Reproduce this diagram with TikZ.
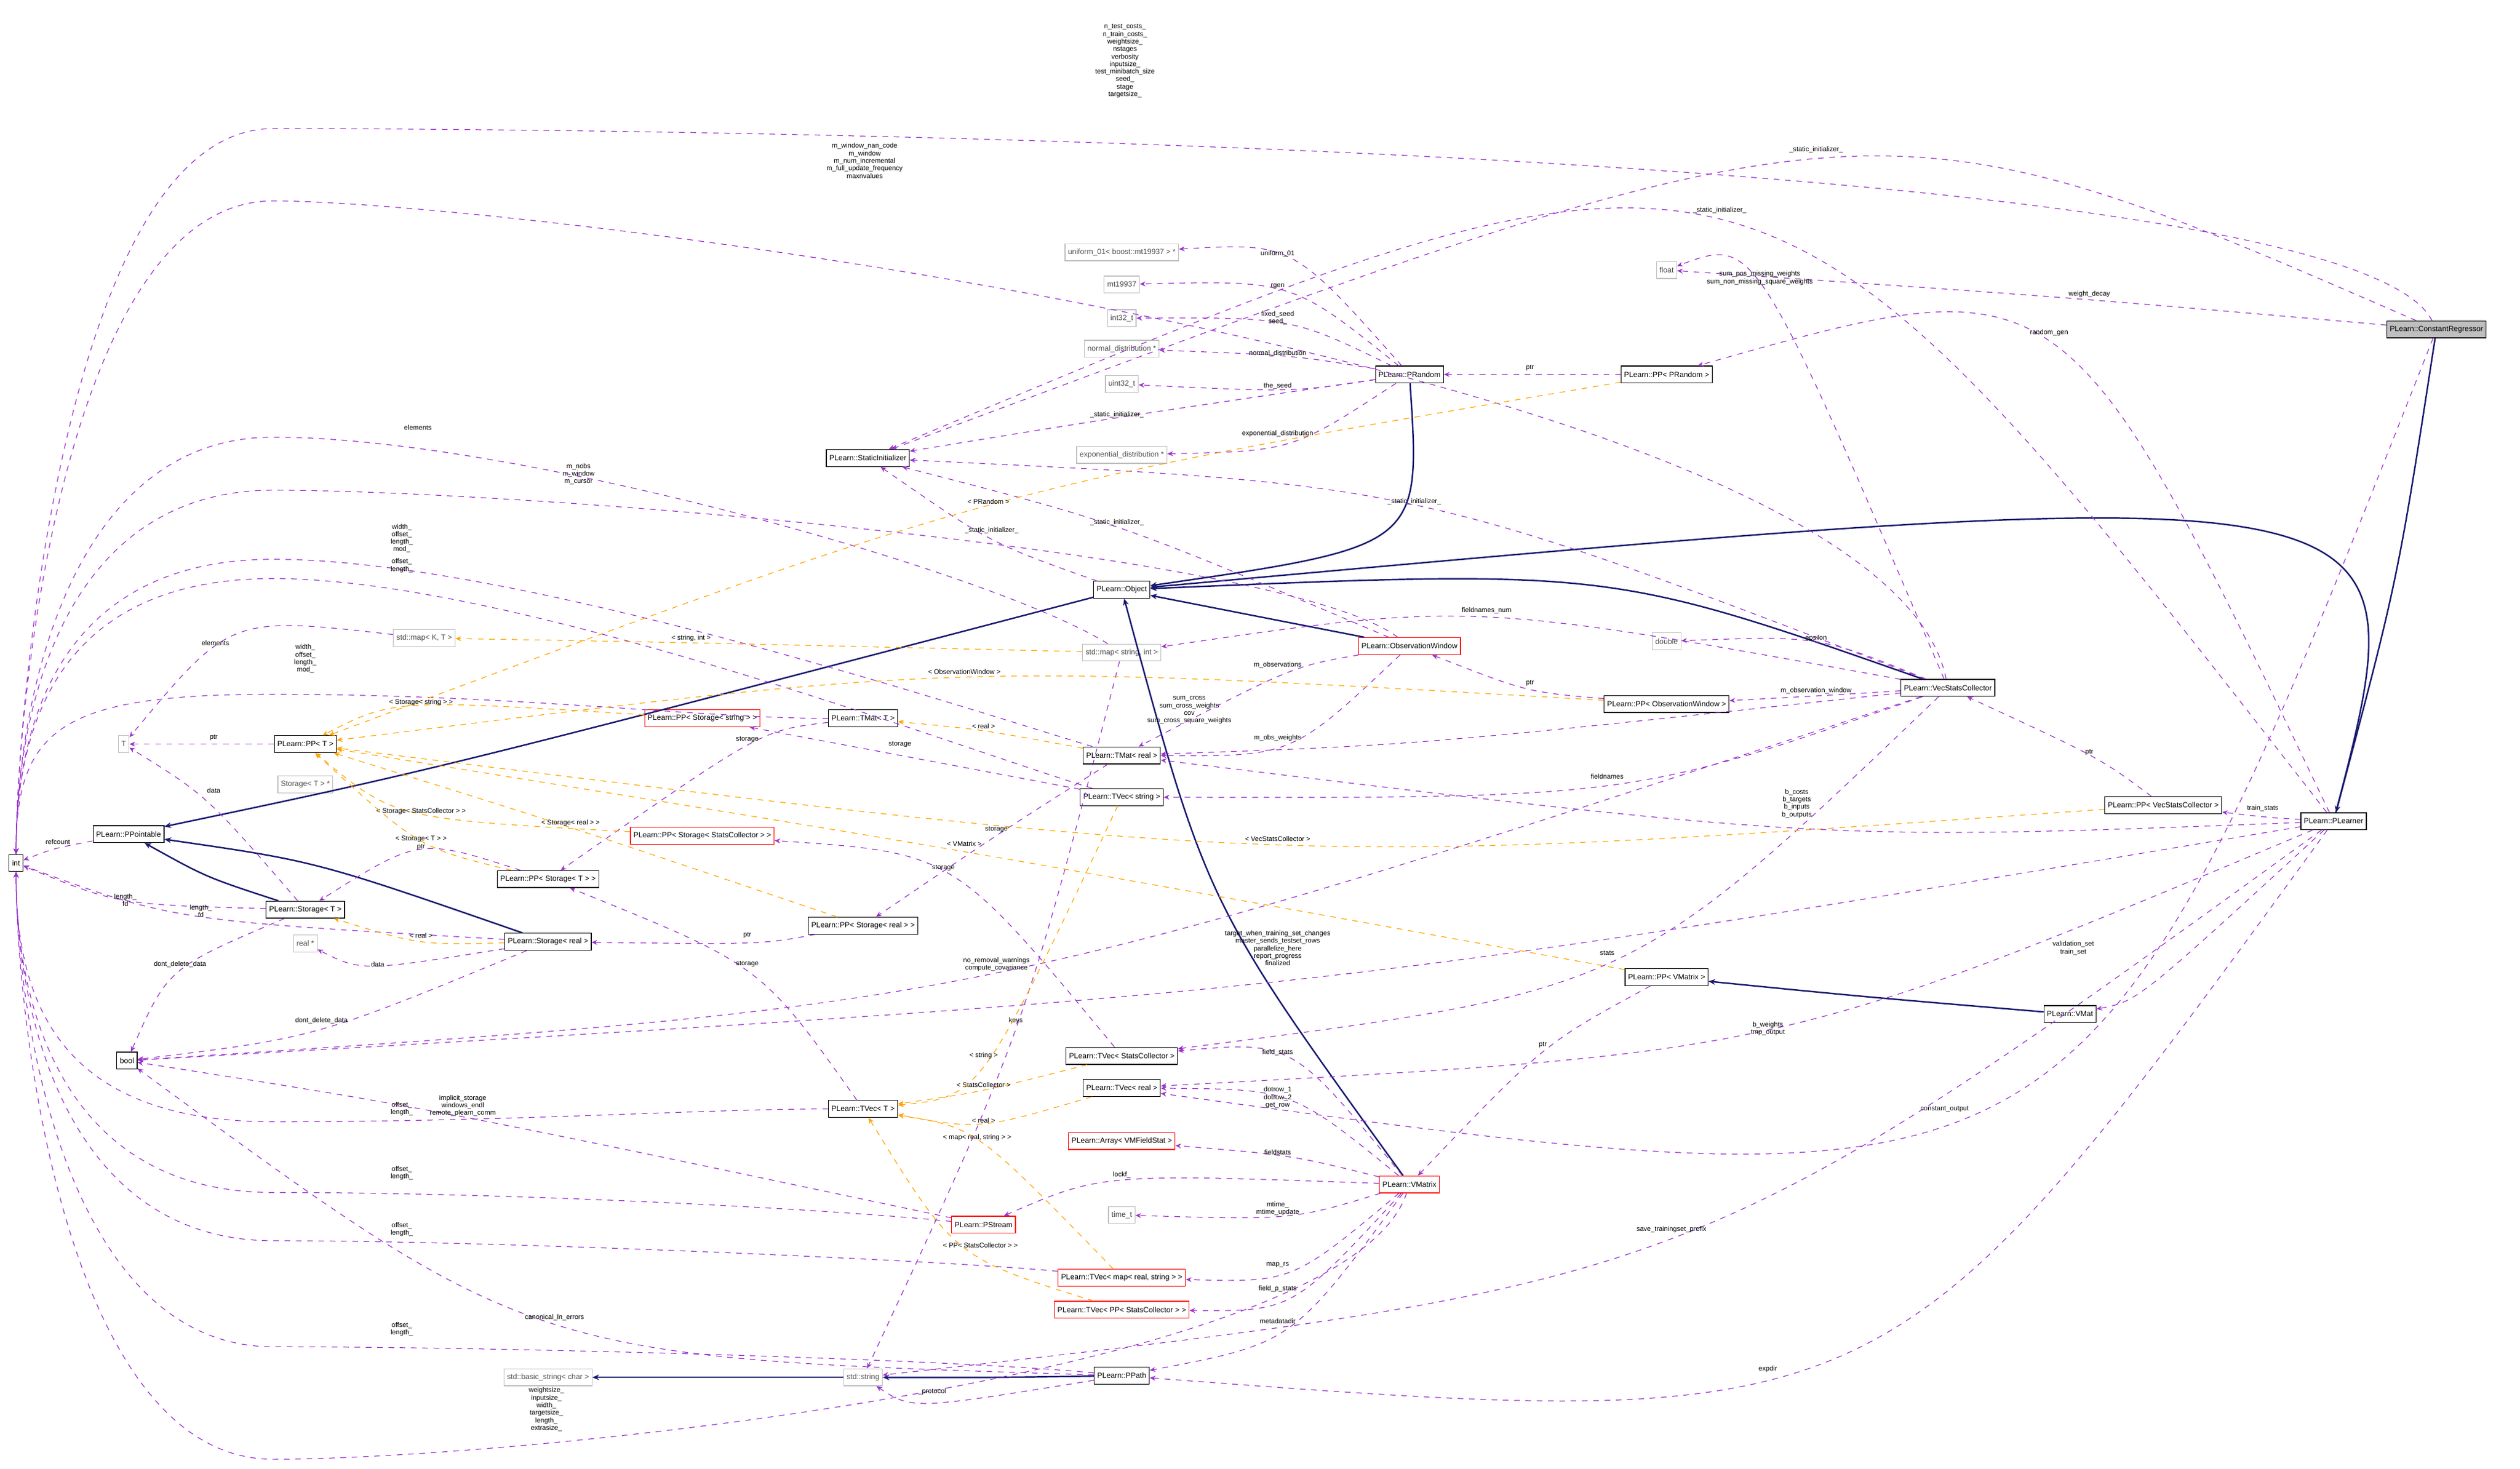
\documentclass[tikz,border=0pt]{standalone}
\usepackage{fontspec}
\setmainfont{Liberation Sans}
\usetikzlibrary{positioning,calc,arrows.meta}
\definecolor{memcol}{RGB}{154,50,205}
\definecolor{tplcol}{RGB}{255,165,0}
\definecolor{inhcol}{RGB}{25,25,112}
\definecolor{extcol}{RGB}{191,191,191}
\tikzset{
  cls/.style={draw=black,fill=white,font=\fontsize{4}{4.5}\selectfont,inner sep=1.6pt,minimum height=9pt},
  clsred/.style={cls,draw=red},
  clsext/.style={cls,draw=extcol,text=black!70},
  clsmain/.style={cls,fill=extcol},
  lbl/.style={font=\fontsize{3.6}{4}\selectfont,align=center,inner sep=0pt},
  mem/.style={draw=memcol,dashed,-{Stealth[length=3pt,width=2.6pt]}},
  tpl/.style={draw=tplcol,dashed,-{Stealth[length=3pt,width=2.6pt]}},
  inh/.style={draw=inhcol,thick,-{Stealth[length=3.5pt,width=3pt]}}
}
\newcommand{\lt}{\textless}
\newcommand{\gt}{\textgreater}
% style, source, target, curve point, label point, text
\newcommand{\conn}[6][mem]{%
  \path ($(#2)!0.5!(#3)$) coordinate (mid);
  \draw[#1] (#2) .. controls ($(mid)!1.333!(#4)$) .. (#3);
  \node[lbl] at (#5) {#6};}
% members of type int: leaving offset, source, track height, entry offset, label point, text
\newcommand{\connint}[6][-100,0]{%
  \path (#2) ++(#1) coordinate (lv);
  \path (int) ++(0,#4) coordinate (en);
  \draw[mem] (#2) .. controls (lv) and (320,#3) .. (170,#3)
    .. controls (40,#3) and (en) .. (int);
  \node[lbl] at (#5) {#6};}

\begin{document}
\begin{tikzpicture}[x=0.03cm,y=-0.03cm]
  \useasboundingbox (0,0) rectangle (1568,914);

  % classes
  \node[clsmain] (constreg)  at (1516,205) {PLearn::ConstantRegressor};
  \node[cls]     (plearner)  at (1452,511) {PLearn::PLearner};
  \node[cls]     (vecstats)  at (1212,428) {PLearn::VecStatsCollector};
  \node[cls]     (pp_vecstats) at (1346,501) {PLearn::PP\lt{} VecStatsCollector \gt};
  \node[cls]     (vmat)      at (1288,631) {PLearn::VMat};
  \node[cls]     (pp_vmatrix) at (1037,608) {PLearn::PP\lt{} VMatrix \gt};
  \node[clsred]  (vmatrix)   at (877,737) {PLearn::VMatrix};
  \node[cls]     (prandom)   at (877,233) {PLearn::PRandom};
  \node[cls]     (pp_prandom) at (1037,233) {PLearn::PP\lt{} PRandom \gt};
  \node[clsext]  (float)     at (1037,168) {float};
  \node[clsext]  (double)    at (1037,399) {double};
  \node[cls]     (staticinit) at (540,285) {PLearn::StaticInitializer};
  \node[cls]     (object)    at (698,367) {PLearn::Object};
  \node[clsred]  (obswin)    at (877,402) {PLearn::ObservationWindow};
  \node[cls]     (pp_obswin) at (1037,438) {PLearn::PP\lt{} ObservationWindow \gt};
  \node[clsext]  (uniform)   at (698,157) {uniform\_01\lt{} boost::mt19937 \gt{} *};
  \node[clsext]  (mt)        at (698,177) {mt19937};
  \node[clsext]  (int32)     at (698,198) {int32\_t};
  \node[clsext]  (normal)    at (698,217) {normal\_distribution *};
  \node[clsext]  (uint32)    at (698,239) {uint32\_t};
  \node[clsext]  (expo)      at (698,283) {exponential\_distribution *};
  \node[clsext]  (map_kt)    at (264,397) {std::map\lt{} K, T \gt};
  \node[clsext]  (map_si)    at (698,406) {std::map\lt{} string, int \gt};
  \node[clsext]  (t)         at (77,463) {T};
  \node[cls]     (pp_t)      at (190,463) {PLearn::PP\lt{} T \gt};
  \node[clsred]  (pp_stor_str) at (437,447) {PLearn::PP\lt{} Storage\lt{} string \gt{} \gt};
  \node[cls]     (tmat_t)    at (537,447) {PLearn::TMat\lt{} T \gt};
  \node[clsext]  (stor_t_ptr) at (190,488) {Storage\lt{} T \gt{} *};
  \node[cls]     (tmat_real) at (698,470) {PLearn::TMat\lt{} real \gt};
  \node[cls]     (tvec_str)  at (698,496) {PLearn::TVec\lt{} string \gt};
  \node[cls]     (ppointable) at (80,519) {PLearn::PPointable};
  \node[cls]     (int)       at (10,537) {int};
  \node[clsred]  (pp_stor_sc) at (437,520) {PLearn::PP\lt{} Storage\lt{} StatsCollector \gt{} \gt};
  \node[cls]     (pp_stor_t) at (341,547) {PLearn::PP\lt{} Storage\lt{} T \gt{} \gt};
  \node[cls]     (stor_t)    at (190,566) {PLearn::Storage\lt{} T \gt};
  \node[clsext]  (realptr)   at (190,587) {real *};
  \node[cls]     (stor_real) at (341,586) {PLearn::Storage\lt{} real \gt};
  \node[cls]     (pp_stor_real) at (537,576) {PLearn::PP\lt{} Storage\lt{} real \gt{} \gt};
  \node[cls]     (bool)      at (79,660) {bool};
  \node[cls]     (tvec_sc)   at (698,657) {PLearn::TVec\lt{} StatsCollector \gt};
  \node[cls]     (tvec_real) at (698,677) {PLearn::TVec\lt{} real \gt};
  \node[cls]     (tvec_t)    at (537,690) {PLearn::TVec\lt{} T \gt};
  \node[clsred]  (arr_vmfs)  at (698,710) {PLearn::Array\lt{} VMFieldStat \gt};
  \node[clsext]  (timet)     at (698,756) {time\_t};
  \node[clsred]  (pstream)   at (612,762) {PLearn::PStream};
  \node[clsred]  (tvec_map)  at (698,795) {PLearn::TVec\lt{} map\lt{} real, string \gt{} \gt};
  \node[clsred]  (tvec_ppsc) at (698,815) {PLearn::TVec\lt{} PP\lt{} StatsCollector \gt{} \gt};
  \node[clsext]  (basicstr)  at (341,857) {std::basic\_string\lt{} char \gt};
  \node[clsext]  (stdstr)    at (537,857) {std::string};
  \node[cls]     (ppath)     at (698,856) {PLearn::PPath};

  % inheritance
  \conn[inh]{constreg}{plearner}{1490,360}{1490,360}{}
  \conn[inh]{plearner}{object}{1400,330}{1400,330}{}
  \conn[inh]{vecstats}{object}{990,365}{990,365}{}
  \conn[inh]{prandom}{object}{860,330}{860,330}{}
  \conn[inh]{obswin}{object}{790,385}{790,385}{}
  \conn[inh]{vmatrix}{object}{760,560}{760,560}{}
  \conn[inh]{vmat}{pp_vmatrix}{1160,620}{1160,620}{}
  \conn[inh]{object}{ppointable}{300,470}{300,470}{}
  \conn[inh]{stor_t}{ppointable}{130,545}{130,545}{}
  \conn[inh]{stor_real}{ppointable}{200,540}{200,540}{}
  \conn[inh]{ppath}{stdstr}{615,857}{615,857}{}
  \conn[inh]{stdstr}{basicstr}{440,857}{440,857}{}

  % members of ConstantRegressor and PLearner
  \conn{constreg}{float}{1280,185}{1300,183}{weight\_decay}
  \connint[-60,-120]{constreg}{80}{-90}{700,38}{n\_test\_costs\_\\n\_train\_costs\_\\weightsize\_\\nstages\\verbosity\\inputsize\_\\test\_minibatch\_size\\seed\_\\stage\\targetsize\_}
  \conn{constreg}{staticinit}{1130,100}{1130,93}{\_static\_initializer\_}
  \conn{constreg}{tvec_real}{1250,680}{1210,690}{constant\_output}
  \conn{plearner}{pp_prandom}{1275,215}{1275,207}{random\_gen}
  \conn{plearner}{staticinit}{1070,138}{1070,131}{\_static\_initializer\_}
  \conn{plearner}{pp_vecstats}{1408,508}{1408,503}{train\_stats}
  \conn{plearner}{vmat}{1340,610}{1290,590}{validation\_set\\train\_set}
  \conn{plearner}{bool}{800,610}{795,590}{target\_when\_training\_set\_changes\\master\_sends\_testset\_rows\\parallelize\_here\\report\_progress\\finalized}
  \conn{plearner}{tvec_real}{1100,640}{1100,640}{b\_weights\\tmp\_output}
  \conn{plearner}{ppath}{1150,840}{1100,852}{expdir}
  \conn{plearner}{stdstr}{1040,770}{1040,765}{save\_trainingset\_prefix}
  \conn{plearner}{tmat_real}{1120,515}{1118,500}{b\_costs\\b\_targets\\b\_inputs\\b\_outputs}

  % members of VecStatsCollector
  \conn{vecstats}{float}{1100,185}{1095,173}{sum\_pos\_missing\_weights\\sum\_non\_missing\_square\_weights}
  \conn{vecstats}{double}{1130,400}{1130,397}{epsilon}
  \conn{vecstats}{pp_obswin}{1130,433}{1130,430}{m\_observation\_window}
  \conn{vecstats}{tmat_real}{900,460}{740,442}{sum\_cross\\sum\_cross\_weights\\cov\\sum\_cross\_square\_weights}
  \conn{vecstats}{map_si}{925,385}{925,380}{fieldnames\_num}
  \conn{vecstats}{tvec_str}{1000,488}{1000,483}{fieldnames}
  \conn{vecstats}{tvec_sc}{1000,598}{1000,593}{stats}
  \conn{vecstats}{bool}{620,605}{620,600}{no\_removal\_warnings\\compute\_covariance}
  \connint[-40,-200]{vecstats}{125}{-95}{538,100}{m\_window\_nan\_code\\m\_window\\m\_num\_incremental\\m\_full\_update\_frequency\\maxnvalues}
  \conn{vecstats}{staticinit}{880,315}{880,312}{\_static\_initializer\_}
  \conn{pp_vecstats}{vecstats}{1300,470}{1300,468}{ptr}

  % members of PRandom
  \conn{prandom}{uniform}{800,162}{795,158}{uniform\_01}
  \conn{prandom}{mt}{800,182}{795,178}{rgen}
  \conn{prandom}{int32}{800,202}{795,198}{fixed\_seed\\seed\_}
  \conn{prandom}{normal}{800,222}{795,220}{normal\_distribution}
  \conn{prandom}{uint32}{800,242}{795,240}{the\_seed}
  \conn{prandom}{staticinit}{695,260}{695,258}{\_static\_initializer\_}
  \conn{prandom}{expo}{800,275}{795,270}{exponential\_distribution}
  \conn{pp_prandom}{prandom}{952,233}{952,229}{ptr}

  % members of ObservationWindow and Object
  \conn{obswin}{tmat_real}{800,420}{795,414}{m\_observations}
  \conn{obswin}{tmat_real}{800,462}{795,459}{m\_obs\_weights}
  \connint[-80,-60]{obswin}{305}{-95}{360,295}{m\_nobs\\m\_window\\m\_cursor}
  \conn{obswin}{staticinit}{700,330}{695,325}{\_static\_initializer\_}
  \conn{pp_obswin}{obswin}{952,428}{952,425}{ptr}
  \conn{object}{staticinit}{617,335}{617,330}{\_static\_initializer\_}

  % members of the containers
  \connint[-100,-30]{tmat_real}{348}{-90}{250,335}{width\_\\offset\_\\length\_\\mod\_}
  \conn{tmat_real}{pp_stor_real}{620,520}{620,516}{storage}
  \conn{tvec_str}{pp_stor_str}{560,470}{560,463}{storage}
  \connint[-100,-30]{tvec_str}{360}{-90}{250,352}{offset\_\\length\_}
  \connint[-100,0]{tmat_t}{432}{-85}{190,410}{width\_\\offset\_\\length\_\\mod\_}
  \conn{tmat_t}{pp_stor_t}{465,465}{465,460}{storage}
  \conn{map_kt}{t}{150,395}{134,400}{elements}
  \connint[-80,-50]{map_si}{272}{-92}{260,266}{elements}
  \conn{map_si}{stdstr}{632,640}{632,635}{keys}
  \conn{pp_t}{t}{133,463}{133,459}{ptr}
  \conn{stor_t}{t}{130,500}{133,492}{data}
  \conn{stor_t}{int}{80,560}{78,560}{length\_\\fd}
  \conn{stor_t}{bool}{112,605}{112,600}{dont\_delete\_data}
  \conn{stor_real}{int}{125,570}{125,567}{length\_\\fd}
  \conn{stor_real}{realptr}{235,600}{235,600}{data}
  \conn{stor_real}{bool}{200,640}{200,635}{dont\_delete\_data}
  \conn{pp_stor_t}{stor_t}{262,530}{262,527}{ptr}
  \conn{pp_stor_real}{stor_real}{465,586}{465,582}{ptr}
  \conn{tvec_t}{pp_stor_t}{465,605}{465,600}{storage}
  \connint[-100,0]{tvec_t}{698}{90}{250,690}{offset\_\\length\_}
  \conn{tvec_sc}{pp_stor_sc}{587,545}{587,540}{storage}
  \conn{ppointable}{int}{36,528}{36,524}{refcount}

  % members of VMatrix, PStream, PPath
  \conn{vmatrix}{tvec_sc}{800,660}{795,655}{field\_stats}
  \conn{vmatrix}{tvec_real}{800,685}{795,683}{dotrow\_1\\dotrow\_2\\get\_row}
  \conn{vmatrix}{arr_vmfs}{800,720}{795,717}{fieldstats}
  \conn{vmatrix}{pstream}{700,735}{698,731}{lockf\_}
  \conn{vmatrix}{timet}{800,756}{795,752}{mtime\_\\mtime\_update}
  \conn{vmatrix}{tvec_map}{800,790}{795,787}{map\_rs}
  \conn{vmatrix}{tvec_ppsc}{800,806}{795,802}{field\_p\_stats}
  \conn{vmatrix}{ppath}{800,826}{795,822}{metadatadir}
  \connint[-40,120]{vmatrix}{908}{95}{340,877}{weightsize\_\\inputsize\_\\width\_\\targetsize\_\\length\_\\extrasize\_}
  \conn{pp_vmatrix}{vmatrix}{960,655}{960,650}{ptr}
  \conn{pstream}{bool}{288,695}{288,688}{implicit\_storage\\windows\_endl\\remote\_plearn\_comm}
  \connint[-100,-10]{pstream}{742}{90}{250,730}{offset\_\\length\_}
  \connint[-100,-10]{tvec_map}{772}{90}{250,765}{offset\_\\length\_}
  \conn{ppath}{stdstr}{580,872}{580,866}{\_protocol}
  \conn{ppath}{bool}{345,823}{345,820}{canonical\_ln\_errors}
  \connint[-100,-10]{ppath}{838}{92}{250,827}{offset\_\\length\_}

  % template instances
  \conn[tpl]{map_si}{map_kt}{430,400}{430,397}{\lt{} string, int \gt}
  \conn[tpl]{tvec_ppsc}{tvec_t}{600,775}{610,775}{\lt{} PP\lt{} StatsCollector \gt{} \gt}
  \conn[tpl]{tvec_map}{tvec_t}{610,712}{608,708}{\lt{} map\lt{} real, string \gt{} \gt}
  \conn[tpl]{tvec_real}{tvec_t}{612,698}{612,697}{\lt{} real \gt}
  \conn[tpl]{tvec_sc}{tvec_t}{612,678}{612,675}{\lt{} StatsCollector \gt}
  \conn[tpl]{tvec_str}{tvec_t}{612,660}{612,657}{\lt{} string \gt}
  \conn[tpl]{pp_vmatrix}{pp_t}{600,530}{600,525}{\lt{} VMatrix \gt}
  \conn[tpl]{pp_vecstats}{pp_t}{795,525}{795,522}{\lt{} VecStatsCollector \gt}
  \conn[tpl]{pp_obswin}{pp_t}{600,422}{600,418}{\lt{} ObservationWindow \gt}
  \conn[tpl]{pp_prandom}{pp_t}{615,315}{615,312}{\lt{} PRandom \gt}
  \conn[tpl]{pp_stor_str}{pp_t}{262,440}{262,437}{\lt{} Storage\lt{} string \gt{} \gt}
  \conn[tpl]{pp_stor_sc}{pp_t}{262,505}{262,505}{\lt{} Storage\lt{} StatsCollector \gt{} \gt}
  \conn[tpl]{pp_stor_t}{pp_t}{262,522}{262,522}{\lt{} Storage\lt{} T \gt{} \gt}
  \conn[tpl]{pp_stor_real}{pp_t}{355,515}{355,512}{\lt{} Storage\lt{} real \gt{} \gt}
  \conn[tpl]{stor_real}{stor_t}{262,585}{262,582}{\lt{} real \gt}
  \conn[tpl]{tmat_real}{tmat_t}{612,455}{612,452}{\lt{} real \gt}
\end{tikzpicture}
\end{document}
